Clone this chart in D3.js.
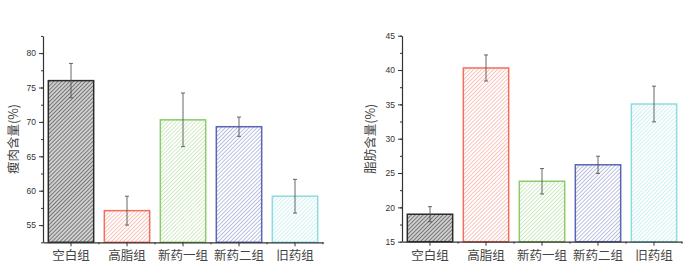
<!DOCTYPE html>
<html>
<head>
<meta charset="utf-8">
<script src="https://cdn.jsdelivr.net/npm/d3@7"></script>
<style>
  html, body { margin: 0; padding: 0; background: #fff; }
  svg { display: block; }
</style>
</head>
<body>
<div id="chart"></div>
<script>
const categories = ["空白组", "高脂组", "新药一组", "新药二组", "旧药组"];
const leanValues = [76.0, 57.1, 70.3, 69.3, 59.2];
const leanErrors = [2.5, 2.1, 3.9, 1.4, 2.45];
const fatValues = [19.0, 40.3, 23.8, 26.2, 35.05];
const fatErrors = [1.1, 1.9, 1.85, 1.25, 2.6];
const leanTicks = [55, 60, 65, 70, 75, 80];
const fatTicks = [15, 20, 25, 30, 35, 40, 45];
const barColors = ["#2b2b2b", "#f0705e", "#8acb6c", "#5a66b4", "#8edcdf"];
const hatchBg = ["#d0d0d0", "#fff", "#fff", "#fff", "#fff"];

const width = 694, height = 272;
const svg = d3.select("#chart").append("svg")
  .attr("width", width)
  .attr("height", height);

const defs = svg.append("defs");
barColors.forEach((color, i) => {
  const p = defs.append("pattern")
    .attr("id", `hatch-${i}`)
    .attr("patternUnits", "userSpaceOnUse")
    .attr("width", 2.8)
    .attr("height", 2.8)
    .attr("patternTransform", "rotate(45)");
  p.append("rect").attr("width", 2.8).attr("height", 2.8).attr("fill", hatchBg[i]);
  p.append("line")
    .attr("x1", 0).attr("y1", 0).attr("x2", 0).attr("y2", 2.8)
    .attr("stroke", color)
    .attr("stroke-width", i === 0 ? 1.3 : 1.1)
    .attr("opacity", i === 0 ? 0.8 : 0.75);
});

function drawPanel(opts) {
  const g = svg.append("g");
  const x = d3.scaleBand().domain(categories).range([opts.x0, opts.x1]).paddingInner(0.19).paddingOuter(0.095);
  const y = d3.scaleLinear().domain(opts.domain).range([opts.y0, opts.y1]);

  // bars
  g.selectAll("rect.bar")
    .data(opts.values)
    .join("rect")
    .attr("class", "bar")
    .attr("x", (d, i) => x(categories[i]))
    .attr("y", (d) => y(d))
    .attr("width", x.bandwidth())
    .attr("height", (d) => y(opts.domain[0]) - y(d))
    .attr("fill", (d, i) => `url(#hatch-${i})`)
    .attr("stroke", (d, i) => barColors[i])
    .attr("stroke-width", 1.5);

  // error bars
  const eb = g.selectAll("g.err")
    .data(opts.values.map((v, i) => ({ v, e: opts.errors[i], c: categories[i] })))
    .join("g")
    .attr("class", "err")
    .attr("stroke", "#555")
    .attr("stroke-width", 0.9);
  eb.append("line")
    .attr("x1", (d) => x(d.c) + x.bandwidth() / 2)
    .attr("x2", (d) => x(d.c) + x.bandwidth() / 2)
    .attr("y1", (d) => y(d.v + d.e))
    .attr("y2", (d) => y(d.v - d.e));
  [1, -1].forEach((s) => {
    eb.append("line")
      .attr("x1", (d) => x(d.c) + x.bandwidth() / 2 - 2)
      .attr("x2", (d) => x(d.c) + x.bandwidth() / 2 + 2)
      .attr("y1", (d) => y(d.v + s * d.e))
      .attr("y2", (d) => y(d.v + s * d.e));
  });

  // y axis
  const minor = d3.range(opts.domain[0], opts.domain[1] + 0.01, 2.5);
  const yMinor = g.append("g")
    .attr("transform", `translate(${opts.x0},0)`)
    .call(d3.axisLeft(y).tickValues(minor).tickSize(2).tickFormat(""));
  yMinor.select(".domain").remove();
  yMinor.selectAll("line").attr("stroke", "#333");
  const yAxis = g.append("g")
    .attr("transform", `translate(${opts.x0},0)`)
    .call(d3.axisLeft(y).tickValues(opts.ticks).tickSize(4).tickPadding(3).tickSizeOuter(0));
  yAxis.select(".domain").attr("stroke", "#333").attr("stroke-width", 1.2);
  yAxis.selectAll("line").attr("stroke", "#333");
  yAxis.selectAll("text")
    .attr("font-family", "Liberation Sans, Arial, sans-serif")
    .attr("font-size", 8.5)
    .attr("fill", "#333");

  // x axis
  const xAxis = g.append("g")
    .attr("transform", `translate(0,${opts.y0})`)
    .call(d3.axisBottom(x).tickSize(4).tickPadding(5).tickSizeOuter(0));
  xAxis.select(".domain").attr("stroke", "#333").attr("stroke-width", 1.2);
  xAxis.selectAll("line").attr("stroke", "#333");
  xAxis.selectAll("text")
    .attr("font-family", "Noto Sans CJK SC, sans-serif")
    .attr("font-size", 12.5)
    .attr("fill", "#444");
  const bounds = categories.slice(1).map((c) => x(c) - x.step() * x.paddingInner() / 2).concat([opts.x1]);
  g.append("g").selectAll("line")
    .data(bounds)
    .join("line")
    .attr("x1", (d) => d).attr("x2", (d) => d)
    .attr("y1", opts.y0).attr("y2", opts.y0 + 2)
    .attr("stroke", "#333");

  // y label
  g.append("text")
    .attr("transform", `translate(${opts.labelX},${(opts.y0 + opts.y1) / 2}) rotate(-90)`)
    .attr("text-anchor", "middle")
    .attr("font-family", "Noto Sans CJK SC, sans-serif")
    .attr("font-size", 12.5)
    .attr("fill", "#444")
    .text(opts.label);
}

drawPanel({
  x0: 43, x1: 323, y0: 242.3, y1: 35.9,
  domain: [52.5, 82.5], ticks: leanTicks,
  values: leanValues, errors: leanErrors,
  label: "瘦肉含量(%)", labelX: 18
});

drawPanel({
  x0: 402, x1: 682, y0: 241.7, y1: 35.7,
  domain: [15, 45], ticks: fatTicks,
  values: fatValues, errors: fatErrors,
  label: "脂肪含量(%)", labelX: 375
});
</script>
</body>
</html>
